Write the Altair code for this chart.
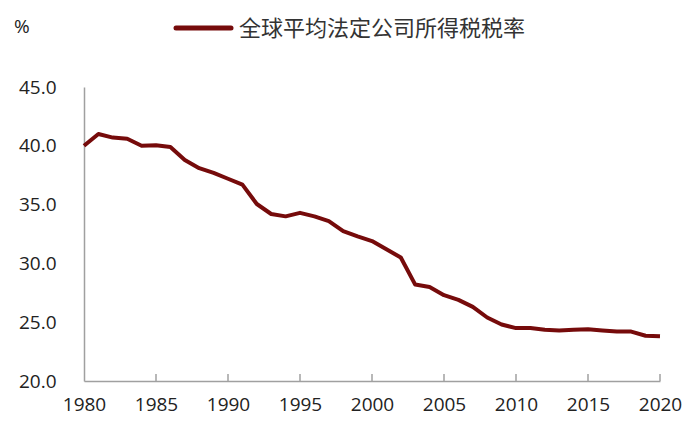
import altair as alt
import pandas as pd

years = list(range(1980, 2021))
rates = [40.0, 41.0, 40.7, 40.6, 40.0, 40.05, 39.9, 38.8, 38.1, 37.7,
         37.2, 36.7, 35.05, 34.2, 34.0, 34.3, 34.0, 33.6, 32.75, 32.3,
         31.9, 31.2, 30.5, 28.2, 28.0, 27.3, 26.9, 26.3, 25.4, 24.8,
         24.5, 24.5, 24.35, 24.3, 24.35, 24.4, 24.3, 24.2, 24.2, 23.85,
         23.8]
series_name = "全球平均法定公司所得税税率"
unit_label = "%"
x_ticks = list(range(1980, 2021, 5))
y_ticks = [20, 25, 30, 35, 40, 45]

LINE_COLOR = "#760b0b"
AXIS_COLOR = "#a0a0a0"
TEXT_COLOR = "#222222"
W, H = 576, 294

df = pd.DataFrame({"year": years, "rate": rates})
tick_df = pd.DataFrame({"year": x_ticks[1:]})

xscale = alt.Scale(domain=[1980, 2020], nice=False, zero=False)
yscale = alt.Scale(domain=[20, 45], nice=False, zero=False)

line = alt.Chart(df).mark_line(color=LINE_COLOR, strokeWidth=4, strokeJoin="round").encode(
    x=alt.X("year:Q", scale=xscale,
            axis=alt.Axis(values=x_ticks, format="d", title=None, grid=False, ticks=False,
                          domainColor=AXIS_COLOR, domainWidth=1.5,
                          labelFont="Open Sans", labelFontSize=19, labelColor=TEXT_COLOR,
                          labelPadding=14, labelFlush=False)),
    y=alt.Y("rate:Q", scale=yscale,
            axis=alt.Axis(values=y_ticks, format=".1f", title=None, grid=False, ticks=False,
                          domainColor=AXIS_COLOR, domainWidth=1.5,
                          labelFont="Open Sans", labelFontSize=19, labelColor=TEXT_COLOR,
                          labelPadding=28)),
)

ticks = alt.Chart(tick_df).mark_rule(color=AXIS_COLOR, strokeWidth=1.5).encode(
    x=alt.X("year:Q", scale=xscale),
    y=alt.datum(20.0),
    y2=alt.datum(20.6),
)

legend_line = alt.Chart(pd.DataFrame({"s": [series_name]})).mark_rule(
    color=LINE_COLOR, strokeWidth=5, strokeCap="round").encode(
    x=alt.value(92), x2=alt.value(147), y=alt.value(-59))

legend_text = alt.Chart(pd.DataFrame({"s": [series_name]})).mark_text(
    align="left", baseline="middle", font="Noto Sans CJK SC", fontSize=22,
    color="#333333").encode(
    text="s:N", x=alt.value(155), y=alt.value(-58))

unit_text = alt.Chart(pd.DataFrame({"s": [unit_label]})).mark_text(
    align="left", baseline="middle", font="Open Sans", fontSize=19,
    color=TEXT_COLOR).encode(
    text="s:N", x=alt.value(-70), y=alt.value(-60))

chart = alt.layer(line, ticks, legend_line, legend_text, unit_text).properties(
    width=W, height=H,
    autosize=alt.AutoSizeParams(type="none"),
    padding={"left": 76, "top": 79, "right": 24, "bottom": 40},
).configure(background="white").configure_view(stroke=None)

chart.save("out.html", embed_options={"renderer": "svg", "actions": False})
